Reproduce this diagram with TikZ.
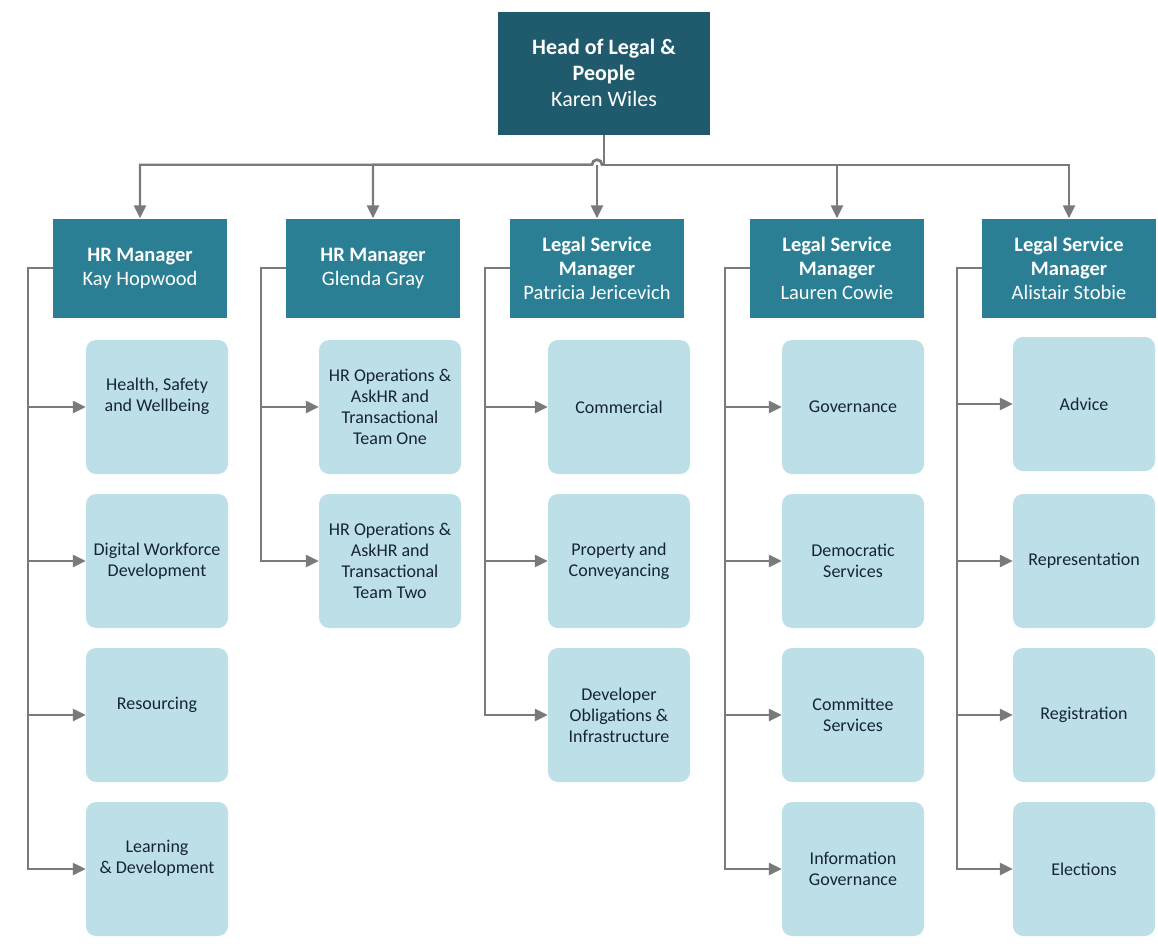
\documentclass[tikz,border=0pt]{standalone}
\usepackage{fontspec}
\setmainfont{Carlito}
\usetikzlibrary{positioning,arrows.meta}

\definecolor{headteal}{HTML}{1F5B6C}
\definecolor{mgrteal}{HTML}{2B7F95}
\definecolor{teampale}{HTML}{BDDFE8}
\definecolor{teamtext}{HTML}{16243A}
\definecolor{linkgray}{HTML}{7A7A7A}

% text sits a little above the middle of the box
\newcommand{\lift}[1]{\raisebox{10pt}[\height][\depth]{\begin{tabular}{@{}c@{}}#1\end{tabular}}}

\tikzset{
  head/.style={fill=headteal, text=white, minimum width=212pt, minimum height=123pt,
    align=center, font=\fontsize{22}{26}\selectfont},
  mgr/.style={fill=mgrteal, text=white, minimum width=174pt, minimum height=99pt,
    align=center, font=\fontsize{20.5}{24}\selectfont},
  team/.style={fill=teampale, text=teamtext, rounded corners=10pt, minimum width=142pt,
    minimum height=134pt, align=center, font=\fontsize{18}{21}\selectfont},
  link/.style={draw=linkgray, line width=2.4pt},
}

\begin{document}
\begin{tikzpicture}[x=1pt,y=-1pt,node distance=154pt,on grid,>={Triangle[length=13pt,width=12pt]}]
  \useasboundingbox (0,0) rectangle (1158,945);

  \node[head] (head) at (604,73) {\textbf{Head of Legal \&}\\\textbf{People}\\Karen Wiles};

  \node[mgr] (kay)      at (140,268)  {\textbf{HR Manager}\\Kay Hopwood};
  \node[mgr] (glenda)   at (373,268)  {\textbf{HR Manager}\\Glenda Gray};
  \node[mgr] (pat)      at (597,268)  {\textbf{Legal Service}\\\textbf{Manager}\\Patricia Jericevich};
  \node[mgr] (lauren)   at (837,268)  {\textbf{Legal Service}\\\textbf{Manager}\\Lauren Cowie};
  \node[mgr] (alistair) at (1069,268) {\textbf{Legal Service}\\\textbf{Manager}\\Alistair Stobie};

  % Kay Hopwood
  \node[team] (hsw) at (157,407)    {\lift{Health, Safety\\and Wellbeing}};
  \node[team] (dwd) [below=of hsw]  {Digital Workforce\\Development};
  \node[team] (res) [below=of dwd]  {\lift{Resourcing}};
  \node[team] (ld)  [below=of res]  {\lift{Learning\\\& Development}};

  % Glenda Gray
  \node[team] (ops1) at (390,407)   {HR Operations \&\\AskHR and\\Transactional\\Team One};
  \node[team] (ops2) [below=of ops1] {HR Operations \&\\AskHR and\\Transactional\\Team Two};

  % Patricia Jericevich
  \node[team] (com)  at (619,407)   {Commercial};
  \node[team] (prop) [below=of com] {Property and\\Conveyancing};
  \node[team] (dev)  [below=of prop] {Developer\\Obligations \&\\Infrastructure};

  % Lauren Cowie
  \node[team] (gov)  at (853,407)   {Governance};
  \node[team] (dem)  [below=of gov] {Democratic\\Services};
  \node[team] (cttee) [below=of dem] {Committee\\Services};
  \node[team] (info) [below=of cttee] {Information\\Governance};

  % Alistair Stobie
  \node[team] (adv)  at (1084,404)  {Advice};
  \node[team] (rep)  at (1084,561)  {Representation};
  \node[team] (reg)  [below=of rep] {Registration};
  \node[team] (elec) [below=of reg] {Elections};

  % head to managers
  \draw[link] (head.south) -- ++(0,30) coordinate (bus);
  \foreach \m in {kay,glenda}
    \draw[link,->] (bus) -- ++(-2,0) arc[start angle=0,end angle=-180,radius=5] -| (\m.north);
  \draw[link,->] (bus -| pat.north) -- (pat.north);
  \foreach \m in {lauren,alistair}
    \draw[link,->] (bus) -| (\m.north);

  % managers to teams
  \foreach \t in {hsw,dwd,res,ld}
    \draw[link,->] (kay.west) -- ++(-25,0) |- (\t.west);
  \foreach \t in {ops1,ops2}
    \draw[link,->] (glenda.west) -- ++(-25,0) |- (\t.west);
  \foreach \t in {com,prop,dev}
    \draw[link,->] (pat.west) -- ++(-25,0) |- (\t.west);
  \foreach \t in {gov,dem,cttee,info}
    \draw[link,->] (lauren.west) -- ++(-25,0) |- (\t.west);
  \foreach \t in {adv,rep,reg,elec}
    \draw[link,->] (alistair.west) -- ++(-25,0) |- (\t.west);
\end{tikzpicture}
\end{document}
